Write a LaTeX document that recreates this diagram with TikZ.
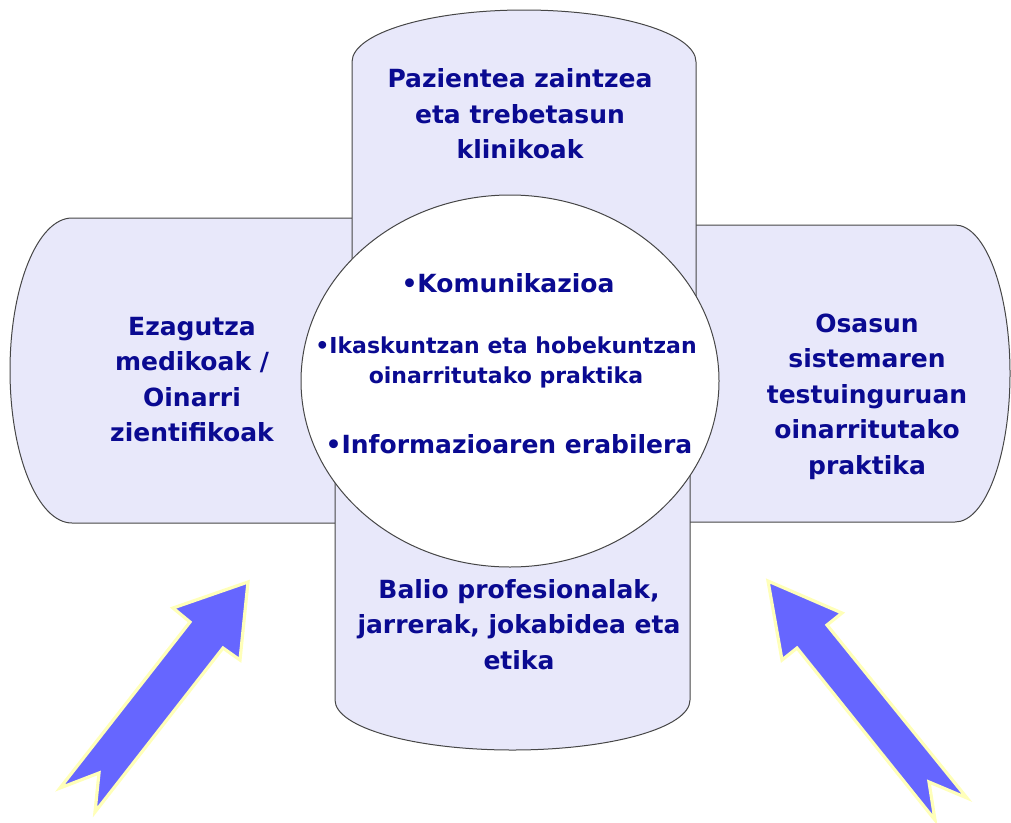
\documentclass[tikz,border=0pt]{standalone}
\usepackage{fontspec}
\setmainfont{DejaVu Sans}
\definecolor{boxfill}{RGB}{232,232,250}
\definecolor{txt}{RGB}{10,10,145}
\definecolor{arrowfill}{RGB}{102,102,255}
\definecolor{arrowline}{RGB}{255,255,185}
\definecolor{edge}{RGB}{70,70,70}
\begin{document}
\begin{tikzpicture}[x=1pt,y=-1pt,
  panel/.style={fill=boxfill, draw=edge, line width=1pt},
  disc/.style={fill=white, draw=edge, line width=1pt},
  lbl/.style={text=txt, align=center, inner sep=0pt, font=\bfseries\fontsize{25}{35.5}\selectfont},
  lblsmall/.style={text=txt, align=center, inner sep=0pt, font=\bfseries\fontsize{22}{30}\selectfont},
  bigarrow/.style={fill=arrowfill, draw=arrowline, line width=3.2pt, line join=miter}]
\useasboundingbox (0,0) rectangle (1011,822);
% left panel
\draw[panel] (400,218) -- (72,218) .. controls (37.8,218) and (10,286.3) .. (10,370.5)
  .. controls (10,454.7) and (37.8,523) .. (72,523) -- (400,523) -- cycle;
% right panel
\draw[panel] (650,225) -- (955,225) .. controls (985.4,225) and (1010,291.5) .. (1010,373.5)
  .. controls (1010,455.5) and (985.4,522) .. (955,522) -- (650,522) -- cycle;
% top panel
\draw[panel] (352,381) -- (352,62) .. controls (352,33.3) and (429,10) .. (524,10)
  .. controls (619,10) and (696,33.3) .. (696,62) -- (696,381) -- cycle;
% bottom panel
\draw[panel] (335,381) -- (335,700) .. controls (335,727.6) and (414.5,750) .. (512.5,750)
  .. controls (610.5,750) and (690,727.6) .. (690,700) -- (690,381) -- cycle;
% centre disc
\draw[disc] (510,381) ellipse [x radius=209, y radius=186];
% texts
\node[lbl, anchor=north] (toptext) at (520,68.8) {Pazientea zaintzea\\eta trebetasun\\klinikoak};
\node[lbl, anchor=north] (lefttext) at (192,316.8) {Ezagutza\\medikoak /\\Oinarri\\zientifikoak};
\node[lbl, anchor=north] (righttext) at (867,313.5) {Osasun\\sistemaren\\testuinguruan\\oinarritutako\\praktika};
\node[lbl, anchor=north] (bottomtext) at (519,579) {Balio profesionalak,\\jarrerak, jokabidea eta\\etika};
\node[lbl, anchor=base] (komu) at (508,292) {•Komunikazioa};
\node[lblsmall, anchor=north] (ikas) at (506,336.3) {•Ikaskuntzan eta hobekuntzan\\oinarritutako praktika};
\node[lbl, anchor=base] (info) at (509,453) {•Informazioaren erabilera};
% arrows
\draw[bigarrow] (248,582) -- (240,660) -- (223,648) -- (95,812) -- (99,773) -- (60,788) -- (190,622) -- (173,608) -- cycle;
\draw[bigarrow] (768,581) -- (842,613) -- (827,625) -- (967,798) -- (929,782) -- (935,820) -- (797,648) -- (782,660) -- cycle;
\end{tikzpicture}
\end{document}
